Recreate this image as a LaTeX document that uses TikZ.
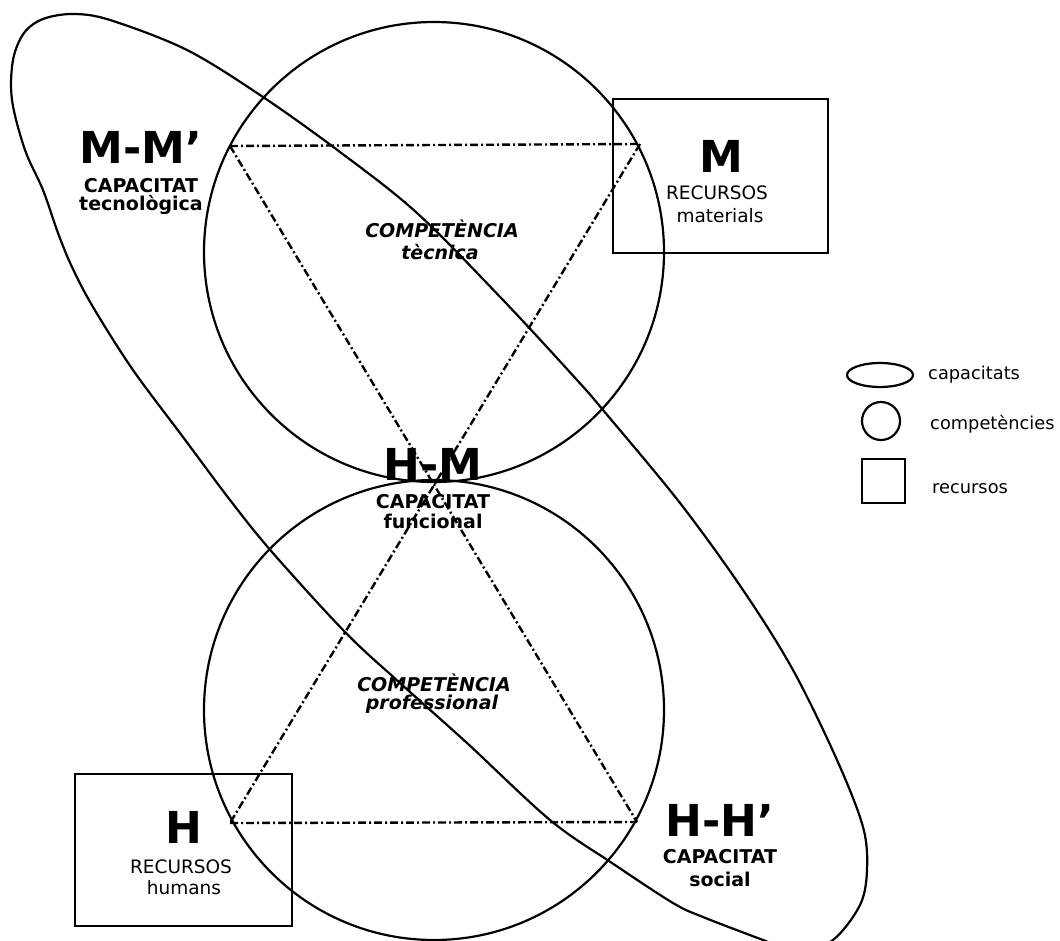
\documentclass[tikz,border=0pt]{standalone}
\usepackage{fontspec}
\setmainfont{DejaVu Sans}
\usetikzlibrary{shapes.geometric}

\tikzset{
  outline/.style={line width=2.2pt},
  rel/.style={line width=2.4pt, dash pattern=on 8pt off 3pt on 2pt off 3pt},
  bigl/.style={font=\bfseries\fontsize{44}{48}\selectfont, anchor=base, inner sep=0pt},
  capl/.style={font=\bfseries\fontsize{19}{22}\selectfont, anchor=base, inner sep=0pt},
  compl/.style={font=\bfseries\itshape\fontsize{19}{22}\selectfont, anchor=base, inner sep=0pt},
  resl/.style={font=\fontsize{18.5}{22}\selectfont, anchor=base, inner sep=0pt},
  legl/.style={font=\fontsize{17.8}{20}\selectfont, anchor=base west, inner sep=0pt},
  compcircle/.style={circle, draw, outline, inner sep=0pt},
  resbox/.style={rectangle, draw, outline, inner sep=0pt},
}

\begin{document}
\begin{tikzpicture}[x=1pt, y=-1pt]
\useasboundingbox (0,0) rectangle (1060,940);

% capacitats: the long tilted loop
\draw[outline] plot[smooth cycle, tension=0.55] coordinates {
  (73,14) (110,20) (187,50) (263,97) (340,152) (417,213) (503,300)
  (577,380) (603,410) (680,503) (743,590) (793,670) (837,760)
  (863,827) (867,870) (860,905) (833,940) (798,953) (763,940)
  (703,917) (673,903) (612,863) (550,820) (467,743) (400,683)
  (345,632) (272,552) (230,500) (183,437) (133,370) (93,307)
  (72,267) (58,233) (43,190) (25,150) (12,100) (13,60) (24,33) (43,19)};

% competencies
\node[compcircle, minimum size=460pt] (tec) at (434,252) {};
\node[compcircle, minimum size=460pt] (prof) at (434,710) {};

% resources
\node[resbox, minimum width=215pt, minimum height=154pt] (mat) at (720.5,176) {};
\node[resbox, minimum width=217pt, minimum height=152pt] (hum) at (183.5,850) {};

% relations between resources
\coordinate (mm) at (230,146);
\coordinate (m)  at (640,144);
\coordinate (h)  at (230,823);
\coordinate (hh) at (637,822);
\draw[rel] (mm) -- (m);
\draw[rel] (h) -- (hh);
\draw[rel] (mm) -- (hh);
\draw[rel] (m) -- (h);

% labels
\node[bigl] (lmm) at (141,163) {M-M’};
\node[capl] (lmm1) at (141,192) {CAPACITAT};
\node[capl] (lmm2) at (141,210) {tecnològica};

\node[compl] (ltec1) at (442,237) {COMPETÈNCIA};
\node[compl] (ltec2) at (440,259) {tècnica};

\node[bigl] (lm) at (721,172) {M};
\node[resl] (lm1) at (717,199) {RECURSOS};
\node[resl] (lm2) at (720,222) {materials};

\node[bigl] (lhm) at (433,480) {H-M};
\node[capl] (lhm1) at (433,508) {CAPACITAT};
\node[capl] (lhm2) at (433,528) {funcional};

\node[compl] (lprof1) at (434,691) {COMPETÈNCIA};
\node[compl] (lprof2) at (432,709) {professional};

\node[bigl] (lh) at (184,843) {H};
\node[resl] (lh1) at (181,873) {RECURSOS};
\node[resl] (lh2) at (184,894) {humans};

\node[bigl] (lhh) at (720,836) {H-H’};
\node[capl] (lhh1) at (720,863) {CAPACITAT};
\node[capl] (lhh2) at (720,886) {social};

% legend
\node[ellipse, draw, outline, inner sep=0pt, minimum width=66pt, minimum height=24pt] (kcap) at (880,375) {};
\node[compcircle, minimum size=38pt] (kcomp) at (881,421) {};
\node[resbox, minimum width=43pt, minimum height=44pt] (kres) at (883.5,481) {};
\node[legl] (tcap) at (928,379) {capacitats};
\node[legl] (tcomp) at (930,429) {competències};
\node[legl] (tres) at (932,493) {recursos};
\end{tikzpicture}
\end{document}
